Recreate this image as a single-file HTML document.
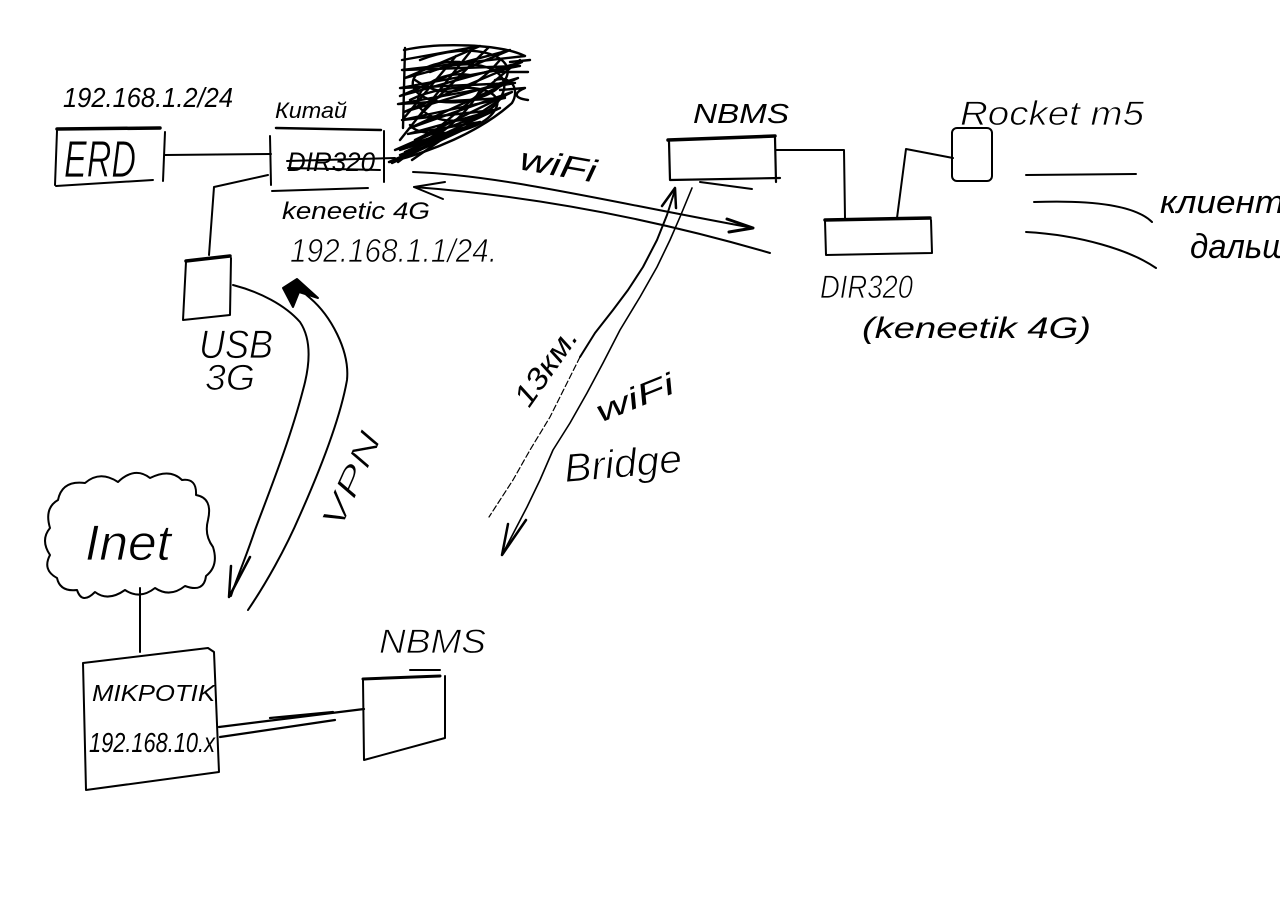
<!DOCTYPE html>
<html><head><meta charset="utf-8"><style>
html,body{margin:0;padding:0;background:#fff;}
svg{display:block;}
text{font-family:"Liberation Sans","DejaVu Sans",sans-serif;fill:#000;}
.th{stroke:#fff;stroke-width:0.8px;}
</style></head><body>
<svg width="1280" height="907" viewBox="0 0 1280 907" xmlns="http://www.w3.org/2000/svg">
<rect width="1280" height="907" fill="#fff"/>
<g fill="none" stroke="#000" stroke-width="2" stroke-linecap="round" stroke-linejoin="round">
<!-- ERD box -->
<path d="M57,129 L160,128" stroke-width="3.5"/>
<path d="M57,131 L55,185 M56,186 L153,180 M165,132 L163,181"/>
<path d="M165,155 L271,154"/>
<!-- Kitai box -->
<path d="M276,128 L381,130" stroke-width="2.5"/>
<path d="M270,136 L271,185 M272,191 L368,188 M384,131 L384,182"/>
<!-- strike lines -->
<path d="M287,161 L395,158 M288,168 L380,170"/>
<!-- Kitai to USB -->
<path d="M268,175 L214,187 L209,255"/>
<!-- USB box -->
<path d="M186,261 L230,256" stroke-width="3.5"/>
<path d="M186,262 L183,320 L230,315 L231,258"/>
<!-- scribble -->
<g stroke-width="2.4">
<path d="M404,50 C440,42 500,44 525,56 L402,70 L520,66 L400,88 L515,83 L398,104 L505,98 L402,120 L495,110 L408,134 L480,122 L400,150 L458,132 L389,162"/>
<path d="M402,60 L480,46 L405,78 L510,50 L400,96 L522,62 L404,112 L518,78 L410,128 L512,92 L415,140 L500,108 L405,152 L480,122 L392,163"/>
<path d="M405,48 L403,128 M420,115 L488,48 M438,128 L520,60 M400,140 L470,52 M412,160 L505,96 M404,118 L456,56"/>
<path d="M430,72 C470,55 515,68 502,95 C490,122 440,130 420,108 C410,90 440,70 470,75"/>
<path d="M420,60 C470,40 520,55 505,80 C490,105 430,110 415,90 C405,75 430,60 460,62"/>
<path d="M410,100 C450,80 510,85 495,110 C480,135 420,140 410,125"/>
<path d="M390,162 C430,152 480,132 512,103 C520,90 512,75 495,80"/>
<path d="M400,155 C440,140 470,110 480,90 M415,80 C445,100 470,95 500,60"/>
<path d="M500,72 L528,72 M500,90 L525,88 C515,92 512,98 528,100 M510,62 L530,60"/>
<path d="M398,162 L430,138 L395,150 L445,128 L400,158"/>
</g>
<!-- WiFi horizontal lines -->
<path d="M413,172 C500,175 600,200 753,228"/>
<path d="M727,219 L753,228 L729,232" stroke-width="3"/>
<path d="M414,187 C520,195 640,215 770,253"/>
<path d="M445,182 L414,187 L443,199"/>
<!-- top NBMS box -->
<path d="M668,140 L775,136" stroke-width="3.5"/>
<path d="M669,142 L670,180 M670,180 L780,178 M775,138 L776,182" stroke-width="2.2"/>
<path d="M700,182 L752,189"/>
<!-- NBMS to DIR -->
<path d="M776,150 L844,150 L845,218"/>
<!-- DIR320 box -->
<path d="M825,220 L930,218" stroke-width="3.5"/>
<path d="M825,221 L826,255 L932,253 L931,220"/>
<!-- DIR to Rocket -->
<path d="M897,218 L906,149 L953,158"/>
<!-- Rocket box -->
<rect x="952" y="128" width="40" height="53" rx="5"/>
<!-- client lines -->
<path d="M1026,175 L1136,174"/>
<path d="M1034,202 C1090,200 1135,205 1152,222"/>
<path d="M1026,232 C1080,235 1130,250 1156,268"/>
<!-- wifi bridge lines -->
<path d="M675,190 L667,215 L657,240 L643,267 L628,290 L613,310 L595,333 L580,357"/>
<path d="M580,357 L567,383 L550,417 L530,450 L513,480 L489,517" stroke-width="1.2" stroke-dasharray="6,3"/>
<path d="M662,206 L675,188 L676,208" stroke-width="2.5"/>
<path d="M692,188 L680,217 L670,240 L657,267 L640,297 L620,330 L603,363 L587,393 L570,423 L553,450 L540,480 L527,507 L502,555" stroke-width="1.6"/>
<path d="M508,524 L502,555 L526,520" stroke-width="2.5"/>
<!-- VPN lines -->
<path d="M233,285 C260,292 285,305 300,322 C312,340 310,365 303,390 C290,440 270,490 255,530 C245,560 236,580 231,596"/>
<path d="M231,566 L229,597 L250,557" stroke-width="2.5"/>
<path d="M248,610 C265,585 285,550 300,515 C320,470 340,420 347,380 C350,350 330,315 310,298 C303,292 298,287 296,283"/>
<path d="M297,279 L283,288 L293,307 L299,292 L318,298 Z" fill="#000" stroke-width="2"/>
<!-- cloud -->
<path d="M58,500 Q62,480 85,483 Q100,470 118,482 Q135,466 150,478 Q170,468 182,480 Q197,478 196,495 Q213,498 208,520 Q204,535 213,547 Q219,566 206,576 Q204,593 185,586 Q170,598 155,588 Q140,600 125,590 Q108,602 95,592 Q82,605 77,590 Q60,592 57,578 Q42,570 50,555 Q40,540 50,528 Q44,508 58,500 Z"/>
<path d="M140,588 L140,652"/>
<!-- Mikrotik box -->
<path d="M83,663 L208,648 L214,652 L219,772 L86,790 L83,663 Z"/>
<!-- Mikrotik to NBMS -->
<path d="M219,727 L364,709 M220,737 L335,720 M270,718 L333,712" stroke-width="2.2"/>
<!-- bottom NBMS box -->
<path d="M363,679 L440,676" stroke-width="3"/>
<path d="M363,680 L364,760 L445,738 L445,676 M410,670 L440,670"/>
</g>

<!-- texts -->
<g font-style="italic">
<text x="63" y="107" font-size="28" textLength="170" lengthAdjust="spacingAndGlyphs">192.168.1.2/24</text>
<text class="th" x="64" y="177" font-size="52" textLength="72" lengthAdjust="spacingAndGlyphs">ERD</text>
<text x="275" y="118" font-size="22" textLength="72" lengthAdjust="spacingAndGlyphs">Китай</text>
<text x="287" y="171" font-size="27" textLength="88" lengthAdjust="spacingAndGlyphs">DIR320</text>
<text x="282" y="219" font-size="24" textLength="148" lengthAdjust="spacingAndGlyphs">keneetic 4G</text>
<text class="th" x="290" y="262" font-size="33" textLength="207" lengthAdjust="spacingAndGlyphs">192.168.1.1/24.</text>
<text class="th" x="199" y="358" font-size="40" textLength="74" lengthAdjust="spacingAndGlyphs">USB</text>
<text class="th" x="205" y="390" font-size="36" textLength="50" lengthAdjust="spacingAndGlyphs">3G</text>
<text class="th" transform="translate(352,480) rotate(-66)" x="0" y="10" font-size="32" text-anchor="middle" textLength="102" lengthAdjust="spacingAndGlyphs">VPN</text>
<text class="th" x="85" y="560" font-size="50" textLength="86" lengthAdjust="spacingAndGlyphs">Inet</text>
<text x="92" y="701" font-size="23" textLength="123" lengthAdjust="spacingAndGlyphs">MIKPOTIK</text>
<text x="89" y="752" font-size="28" textLength="126" lengthAdjust="spacingAndGlyphs">192.168.10.x</text>
<text class="th" x="379" y="653" font-size="34" textLength="107" lengthAdjust="spacingAndGlyphs">NBMS</text>
<text x="693" y="123" font-size="28" textLength="96" lengthAdjust="spacingAndGlyphs">NBMS</text>
<text class="th" x="960" y="125" font-size="34" textLength="184" lengthAdjust="spacingAndGlyphs">Rocket m5</text>
<text class="th" x="820" y="298" font-size="32" textLength="93" lengthAdjust="spacingAndGlyphs">DIR320</text>
<text x="862" y="338" font-size="30" textLength="229" lengthAdjust="spacingAndGlyphs">(keneetik 4G)</text>
<text transform="translate(558,166) rotate(10)" x="0" y="10" font-size="32" text-anchor="middle" textLength="77" lengthAdjust="spacingAndGlyphs">wiFi</text>
<text transform="translate(546,367) rotate(-55)" x="0" y="10" font-size="30" text-anchor="middle" textLength="88" lengthAdjust="spacingAndGlyphs">13км.</text>
<text transform="translate(635,398) rotate(-22)" x="0" y="10" font-size="30" text-anchor="middle" textLength="82" lengthAdjust="spacingAndGlyphs">wiFi</text>
<text class="th" transform="translate(623,464) rotate(-5)" x="0" y="13" font-size="40" text-anchor="middle" textLength="118" lengthAdjust="spacingAndGlyphs">Bridge</text>
<text x="1160" y="213" font-size="32" textLength="150" lengthAdjust="spacingAndGlyphs">клиенты</text>
<text x="1190" y="258" font-size="34" textLength="118" lengthAdjust="spacingAndGlyphs">дальше</text>
</g>
</svg>
</body></html>
